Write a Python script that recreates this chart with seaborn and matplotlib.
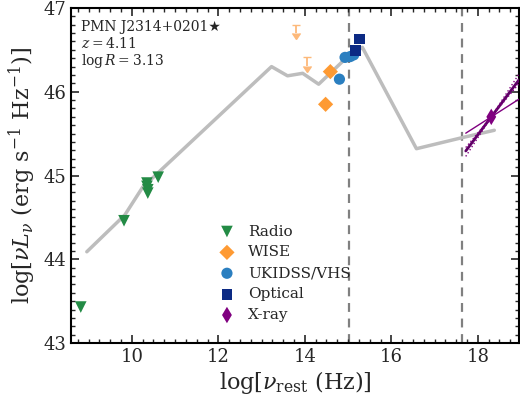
import numpy as np
import pandas as pd
import matplotlib
matplotlib.use("Agg")
import matplotlib.pyplot as plt
import seaborn as sns

# SED template (grey curve)
sed_x = [8.96, 9.84, 10.25, 13.23, 13.60, 13.95, 14.32, 14.87, 15.33, 16.58, 17.62, 18.38]
sed_y = [44.09, 44.53, 44.86, 46.30, 46.19, 46.22, 46.09, 46.36, 46.53, 45.32, 45.45, 45.54]

# photometry
radio_x = [8.82, 9.82, 10.35, 10.35, 10.37, 10.37, 10.61]
radio_y = [43.43, 44.46, 44.91, 44.87, 44.83, 44.79, 44.98]
wise_x = [14.59, 14.48]
wise_y = [46.24, 45.85]
wise_ul_x = [13.79, 14.06]
wise_ul_y = [46.80, 46.41]
nir_x = [14.80, 14.93, 15.05, 15.13]
nir_y = [46.15, 46.41, 46.42, 46.44]
opt_x = [15.18, 15.27]
opt_y = [46.49, 46.63]
xray_x = [18.31]
xray_y = [45.70]
# x-ray bowtie: slopes around the pivot
xray_slope = 0.69
xray_slope_lim = [0.33, 0.62, 0.80]
xray_range = [17.72, 18.95]

vlines = [15.03, 17.64]

sns.set_style("ticks")
plt.rcParams['font.family'] = ['DejaVu Serif', 'DejaVu Sans']
plt.rcParams['mathtext.fontset'] = 'dejavuserif'

fig, ax = plt.subplots(figsize=(5.2, 3.98), dpi=100)
fig.subplots_adjust(left=0.137, right=0.998, bottom=0.138, top=0.980)

sns.lineplot(x=sed_x, y=sed_y, color='#bdbdbd', lw=2.5, ax=ax, sort=False, zorder=1)

for v in vlines:
    ax.axvline(v, color='#808080', ls=(0, (4, 3)), lw=1.6, zorder=0)

# upper limits
ul_col = '#fdb97a'
ax.errorbar(wise_ul_x, wise_ul_y, yerr=0.1, uplims=True, fmt='none',
            ecolor=ul_col, color=ul_col, capsize=3, elinewidth=1.3, zorder=2)

sns.scatterplot(x=radio_x, y=radio_y, marker='v', color='#238b45', s=70,
                edgecolor='none', label='Radio', ax=ax, zorder=3)
sns.scatterplot(x=wise_x, y=wise_y, marker='D', color='#fe9a33', s=60,
                edgecolor='none', label='WISE', ax=ax, zorder=3)
sns.scatterplot(x=nir_x, y=nir_y, marker='o', color='#2b7fc0', s=65,
                edgecolor='none', label='UKIDSS/VHS', ax=ax, zorder=3)
sns.scatterplot(x=opt_x, y=opt_y, marker='s', color='#0c2a84', s=60,
                edgecolor='none', label='Optical', ax=ax, zorder=4)

# x-ray bowtie
xx = np.array(xray_range)
ax.plot(xx, xray_y[0] + xray_slope * (xx - xray_x[0]), color='#5e0066', lw=2, zorder=3)
ax.plot(xx, xray_y[0] + xray_slope_lim[0] * (xx - xray_x[0]), color='#800080', lw=1, zorder=3)
for s in xray_slope_lim[1:]:
    ax.plot(xx, xray_y[0] + s * (xx - xray_x[0]), color='#800080', lw=1, ls=':', zorder=3)
sns.scatterplot(x=xray_x, y=xray_y, marker='d', color='#800080', s=70,
                edgecolor='none', label='X-ray', ax=ax, zorder=4)

ax.set_xlim(8.6, 18.95)
ax.set_ylim(43, 47)
ax.set_xticks([10, 12, 14, 16, 18])
ax.set_yticks([43, 44, 45, 46, 47])
ax.xaxis.set_minor_locator(matplotlib.ticker.MultipleLocator(0.25))
ax.yaxis.set_minor_locator(matplotlib.ticker.MultipleLocator(0.1))
ax.tick_params(which='both', direction='in', top=True, right=True, labelsize=13)
ax.tick_params(which='major', length=6, width=1.2)
ax.tick_params(which='minor', length=3, width=1)
for sp in ax.spines.values():
    sp.set_linewidth(1.5)
    sp.set_color('black')

ax.set_xlabel(r'$\log[\nu_{\rm rest}\ (\rm Hz)]$', fontsize=16, labelpad=2)
ax.set_ylabel(r'$\log[\nu L_\nu\ (\rm erg\ s^{-1}\ Hz^{-1})]$', fontsize=16, labelpad=4)

ax.text(0.022, 0.965, 'PMN J2314+0201★', transform=ax.transAxes, fontsize=10, va='top')
ax.text(0.022, 0.917, r'$z=4.11$', transform=ax.transAxes, fontsize=10, va='top')
ax.text(0.022, 0.869, r'$\log R=3.13$', transform=ax.transAxes, fontsize=10, va='top')

ax.legend(loc='upper left', bbox_to_anchor=(0.3, 0.372), frameon=False, fontsize=11,
          handletextpad=0.4, labelspacing=0.45, borderaxespad=0)

fig.savefig('out.png', dpi=100)
